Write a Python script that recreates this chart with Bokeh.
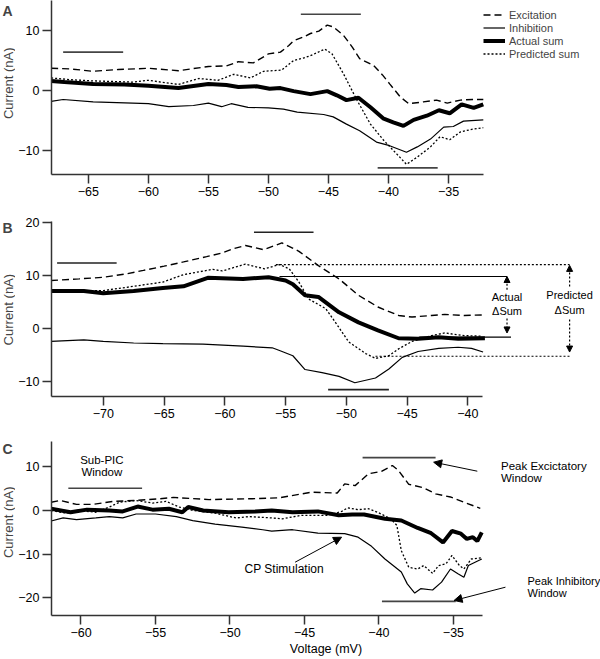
import numpy as np
from bokeh.plotting import figure
from bokeh.models import (Range1d, FixedTicker, Label, Arrow, NormalHead,
                          Legend, LegendItem)
from bokeh.layouts import column, row
from bokeh.embed import file_html
from bokeh.resources import INLINE

FONT = "Liberation Sans"

# ---------------- Panel A data (voltage mV, current nA) ----------------
A_exc_v = [-68.1, -66.5, -64.6, -62.5, -60, -57.5, -55, -53.5, -52.5, -51.25, -50, -49, -48.3, -47.9, -47.1,
           -46.5, -45.8, -45.1, -44.6, -43.75, -43.0, -42.4, -41.25, -40.5, -39.9, -39.0, -38.3, -37.1, -36.0,
           -35.1, -34.0, -33, -32.1]
A_exc_i = [3.7, 3.6, 3.2, 3.5, 3.7, 3.3, 4.0, 4.1, 4.8, 4.6, 6.1, 6.4, 7.5, 8.3, 8.9,
           9.5, 9.9, 10.9, 10.6, 9.2, 7.2, 5.3, 4.2, 2.6, 1.1, -1.1, -2.2, -1.9, -1.6,
           -2.1, -1.6, -1.5, -1.5]
A_inh_v = [-68.1, -67.1, -64.6, -60, -58.3, -56.25, -55, -53.9, -53.1, -51.7, -50, -48.75, -47.6, -45.4,
           -44.6, -43.5, -42.4, -41.0, -39.9, -38.5, -37.6, -36.5, -35.4, -34.6, -33.75, -32.1]
A_inh_i = [-1.8, -1.5, -1.9, -2.2, -2.7, -2.5, -2.1, -2.7, -2.2, -2.8, -2.9, -3.1, -3.6, -4.0,
           -4.4, -5.6, -6.7, -8.6, -9.2, -10.3, -9.4, -8.1, -6.1, -6.0, -5.1, -4.9]
A_act_v = [-68.1, -67, -64.6, -62, -60, -57.5, -55, -53.5, -52.5, -51, -49.9, -49, -47.9, -46.5, -45.1,
           -44.3, -43.5, -42.5, -41.5, -40.4, -39.6, -38.75, -37.9, -36.8, -35.8, -34.9, -33.9, -32.9, -32.1]
A_act_i = [1.6, 1.4, 1.1, 1.0, 0.8, 0.4, 1.1, 0.9, 0.6, 0.7, 0.3, 0.4, -0.1, -0.6, -0.1,
           -0.8, -1.6, -1.2, -2.8, -4.7, -5.3, -5.9, -4.9, -4.2, -3.3, -3.8, -2.3, -2.9, -2.3]
A_pred_v = [-68.1, -66.5, -64.6, -61.25, -60, -57.5, -55.8, -54.2, -52.9, -51.5, -50.4, -48.9, -47.9, -47.1,
            -46.5, -45.3, -44.7, -43.75, -42.6, -41.5, -40.4, -39.3, -38.5, -37.6, -36.5, -35.7, -34.9, -34.0,
            -32.9, -32.1]
A_pred_i = [2.1, 1.8, 1.6, 1.4, 1.7, 1.0, 2.0, 1.7, 2.7, 2.1, 3.2, 3.4, 5.0, 5.4,
            5.8, 6.9, 6.1, 2.8, -1.7, -5.6, -8.3, -10.6, -12.3, -11.1, -9.4, -7.7, -8.2, -6.9,
            -6.4, -6.2]
# window bars: (v_start, v_end, level)
A_windows = [(-67.1, -62.1, 6.4), (-47.3, -42.3, 12.7), (-40.9, -35.9, -12.9)]

# ---------------- Panel B data ----------------
B_exc_v = [-74.3, -72, -70, -68, -66.7, -65, -63.4, -61.5, -60.2, -59.3, -58.3, -56.8, -55.3, -53.9,
           -52.3, -50.6, -49.0, -47.4, -45.7, -44.6, -43, -41.9, -40.3, -38.8]
B_exc_i = [9.0, 9.3, 9.6, 10.3, 10.9, 11.7, 12.5, 13.5, 14.2, 15.0, 15.6, 14.8, 16.1, 14.5,
           11.8, 9.3, 6.2, 4.0, 2.4, 2.1, 2.4, 2.6, 2.4, 2.5]
B_inh_v = [-74.3, -71.6, -70, -67.5, -65.1, -61.8, -58.5, -56.1, -55.5, -54.4, -53.4, -52.0, -50.6,
           -49.3, -47.6, -46.5, -45.4, -44.1, -42.4, -40.8, -39.7, -38.75]
B_inh_i = [-2.5, -2.2, -2.5, -2.8, -2.9, -3.0, -3.4, -3.7, -4.2, -5.2, -7.8, -8.4, -9.1,
           -10.3, -9.4, -7.7, -5.5, -4.4, -3.8, -3.6, -3.8, -4.5]
B_act_v = [-74.3, -71.6, -70, -67.5, -65.1, -63.4, -61.4, -58.5, -56.4, -55.0, -54.4, -53.4, -52.3,
           -50.6, -49.0, -47.4, -45.7, -44.1, -42.4, -40.8, -38.6]
B_act_i = [7.0, 7.0, 6.6, 7.0, 7.6, 7.9, 9.5, 9.3, 9.6, 9.0, 8.3, 6.2, 5.9,
           3.0, 1.1, -0.4, -1.9, -2.0, -1.7, -2.0, -1.9]
B_pred_v = [-74.3, -70, -67.5, -65.1, -63.4, -61, -60.2, -58.3, -56.75, -55.5, -54.7, -53.9, -53.1,
            -51.7, -50.9, -49.8, -48.4, -47.6, -46.5, -45.7, -44.6, -43.0, -41.9, -40.3, -38.9]
B_pred_i = [7.0, 7.1, 7.9, 8.7, 10.1, 11.1, 10.8, 12.1, 11.2, 12.0, 11.2, 8.7, 5.5,
            3.7, 1.1, -2.6, -4.8, -5.7, -5.2, -3.9, -2.5, -1.4, -0.9, -1.4, -1.5]
B_windows = [(-73.8, -68.9, 12.3), (-57.6, -52.7, 18.1), (-51.5, -46.5, -11.6)]
# Delta-sum reference levels
B_actual_hi, B_actual_lo = 9.75, -1.7
B_pred_hi, B_pred_lo = 12.0, -5.3

# ---------------- Panel C data ----------------
C_exc_v = [-62, -61.4, -60.3, -59.2, -57.8, -56.3, -54.7, -53.8, -51.4, -48.5, -46.7, -44.5, -42.8,
           -42.3, -41.6, -40.7, -39.8, -39.1, -38.7, -38.0, -37.0, -36.2, -35.2, -34.3, -33.2]
C_exc_i = [1.9, 2.3, 1.4, 1.4, 2.1, 2.3, 2.7, 3.0, 2.5, 2.7, 2.9, 4.2, 4.0,
           6.1, 5.7, 8.4, 9.0, 10.3, 9.2, 6.0, 5.2, 3.8, 3.1, 1.9, 0.5]
C_inh_v = [-62, -61.2, -60.3, -59, -58.1, -57.2, -56.3, -55, -53.6, -52.5, -51, -49.2, -47.8, -47.2,
           -45.8, -44.1, -42.3, -41.4, -40.5, -39.6, -38.5, -38.1, -37.6, -37.2, -36.4, -35.8, -35.2,
           -34.7, -34.3, -34.0, -33.1]
C_inh_i = [-2.4, -1.7, -2.1, -1.7, -1.4, -1.7, -0.8, -0.8, -1.4, -2.3, -3.1, -3.8, -4.4, -4.7,
           -4.4, -5.2, -5.3, -6.1, -8.2, -11.1, -14.1, -16.8, -18.9, -17.9, -18.2, -16.4, -13.4,
           -14.5, -15.3, -12.6, -11.1]
C_act_v = [-62, -60.7, -59.6, -58.1, -57.2, -56.2, -55.2, -54.1, -53.2, -52.8, -51.8, -50.1, -48.3,
           -47.2, -45.8, -44.1, -42.7, -41.8, -41.0, -39.6, -38.5, -37.4, -36.5, -35.7, -35.1, -34.5,
           -34.1, -33.7, -33.4, -33.1]
C_act_i = [0.4, -0.4, 0.2, 0.0, -0.2, 0.9, 0.2, 0.4, -0.4, 0.8, 0.0, -0.4, -0.2,
           0.0, -0.4, -0.2, -1.1, -0.9, -0.9, -1.9, -2.3, -4.0, -5.2, -7.3, -4.7, -5.3,
           -6.5, -6.1, -7.0, -5.0]
C_pred_v = [-62, -61, -60.1, -59, -58.1, -57.4, -56.3, -55.2, -54.3, -53.4, -52.5, -51, -49.6, -48.7,
            -47.2, -46.5, -45.2, -43.4, -42.5, -42.1, -41.4, -40.7, -40.1, -39.2, -38.8, -38.5, -38.0,
            -37.4, -37.0, -36.4, -36.0, -35.5, -35.1, -34.6, -34.3, -33.8, -33.1]
C_pred_i = [0.0, -0.6, 0.0, -0.4, 0.8, 1.9, 2.3, 1.7, 2.1, 0.8, 0.0, -0.6, -1.7, -1.4,
            -1.7, -1.9, -1.1, -1.1, -0.2, 0.6, 0.2, 0.4, -0.4, -1.9, -3.4, -9.2, -13.0,
            -13.4, -12.6, -14.4, -12.6, -12.2, -10.3, -12.6, -13.4, -11.1, -10.8]
C_windows = [(-60.85, -55.9, 5.1), (-41.1, -36.2, 12.1), (-39.8, -34.85, -20.8)]

A_xticks = [-65, -60, -55, -50, -45, -40, -35]
A_yticks = [-10, 0, 10]
B_xticks = [-70, -65, -60, -55, -50, -45, -40]
B_yticks = [-10, 0, 10, 20]
C_xticks = [-60, -55, -50, -45, -40, -35]
C_yticks = [-20, -10, 0, 10]

SIDE_W = 15          # narrow strip holding panel letter and y-axis title
W = 600 - SIDE_W     # main figure width
BL = 33              # left border of main figure -> frame at x=48
FW = W - BL


def make_fig(height, x_start, px_per_mv, x_bound_end, y_range, xticks, yticks, top, bottom, xlabel=None):
    x_end = x_start + FW / px_per_mv
    p = figure(width=W, height=height, x_range=Range1d(x_start, x_end), y_range=Range1d(*y_range),
               output_backend="svg", toolbar_location=None, title=None,
               min_border_left=BL, min_border_right=0, min_border_top=top, min_border_bottom=bottom)
    p.outline_line_color = None
    p.grid.visible = False
    p.background_fill_color = "white"
    p.border_fill_color = "white"
    p.xaxis.bounds = (x_start, x_bound_end)
    p.xaxis.ticker = FixedTicker(ticks=xticks)
    p.yaxis.ticker = FixedTicker(ticks=yticks)
    for ax in (p.xaxis[0], p.yaxis[0]):
        ax.axis_line_color = "#333333"
        ax.axis_line_width = 1.5
        ax.major_tick_line_color = "#333333"
        ax.major_tick_line_width = 1.5
        ax.major_tick_out = 9
        ax.major_tick_in = 0
        ax.minor_tick_line_color = None
        ax.major_label_text_font = FONT
        ax.major_label_text_font_size = "12.5px"
        ax.major_label_text_color = "black"
        ax.major_label_standoff = 3
        ax.axis_label_text_font = FONT
        ax.axis_label_text_font_size = "12.5px"
        ax.axis_label_text_font_style = "normal"
        ax.axis_label_text_color = "black"
        ax.axis_label_standoff = 2
    if xlabel:
        p.xaxis.axis_label = xlabel
    return p


def side_strip(height, y_range, top, bottom, letter, letter_y, label_y):
    """Narrow strip left of the axis: panel letter + rotated y-axis title.
    Its frame is aligned with the main frame, so it shares the current (nA) scale."""
    s = figure(width=SIDE_W, height=height, x_range=Range1d(0, SIDE_W), y_range=Range1d(*y_range),
               output_backend="svg", toolbar_location=None, title=None,
               x_axis_type=None, y_axis_type=None, min_border_left=0, min_border_right=0,
               min_border_top=top, min_border_bottom=bottom)
    s.outline_line_color = None
    s.grid.visible = False
    s.background_fill_color = "white"
    s.border_fill_color = "white"
    s.add_layout(Label(x=2, y=letter_y, text=letter, text_font=FONT, text_font_style="bold",
                       text_font_size="14px", text_align="left", text_baseline="middle"))
    s.add_layout(Label(x=7.5, y=label_y, text="Current (nA)", text_font=FONT,
                       text_font_size="13px", text_align="center", text_baseline="middle",
                       angle=np.pi / 2))
    return s


def draw_series(p, exc, inh, act, pred):
    r_inh = p.line(inh[0], inh[1], line_color="black", line_width=1.2)
    r_exc = p.line(exc[0], exc[1], line_color="black", line_width=1.4, line_dash="7 4")
    r_pred = p.line(pred[0], pred[1], line_color="black", line_width=1.3, line_dash="2 2")
    r_act = p.line(act[0], act[1], line_color="black", line_width=4)
    return r_exc, r_inh, r_act, r_pred


def draw_windows(p, windows, color="#444444"):
    p.segment(x0=[w[0] for w in windows], x1=[w[1] for w in windows],
              y0=[w[2] for w in windows], y1=[w[2] for w in windows],
              line_color=color, line_width=1.6)


def note(p, x, y, text, align="center", size="11px"):
    p.add_layout(Label(x=x, y=y, text=text, text_font=FONT, text_font_size=size,
                       text_align=align, text_baseline="middle", text_color="black"))


# ---------------- Panel A ----------------
HA, A_yr = 203, (-14.0, 15.0)
pA = make_fig(HA, -68.07, 12.07, -32.1, A_yr, A_xticks, A_yticks, 0, 29)
rA = draw_series(pA, (A_exc_v, A_exc_i), (A_inh_v, A_inh_i), (A_act_v, A_act_i), (A_pred_v, A_pred_i))
draw_windows(pA, A_windows)
leg = Legend(items=[LegendItem(label="Excitation", renderers=[rA[0]]),
                    LegendItem(label="Inhibition", renderers=[rA[1]]),
                    LegendItem(label="Actual sum", renderers=[rA[2]]),
                    LegendItem(label="Predicted sum", renderers=[rA[3]])],
             location=(432, 114), orientation="vertical", background_fill_alpha=0,
             border_line_color=None, padding=0, spacing=0, margin=0, glyph_width=22, glyph_height=13,
             label_height=13, label_standoff=4, label_text_font=FONT, label_text_font_size="11px")
pA.add_layout(leg)
sA = side_strip(HA, A_yr, 0, 29, "A", 13.3, 1.2)

# ---------------- Panel B ----------------
HB, B_yr = 221, (-12.89, 20.13)
pB = make_fig(HB, -74.26, 12.22, -38.77, B_yr, B_xticks, B_yticks, 18, 28)
draw_series(pB, (B_exc_v, B_exc_i), (B_inh_v, B_inh_i), (B_act_v, B_act_i), (B_pred_v, B_pred_i))
draw_windows(pB, B_windows, color="#222222")
xa, xp = -36.78, -31.63
pB.segment(x0=[-55.5, -44.0], x1=[xa, -36.45], y0=[B_actual_hi, B_actual_lo], y1=[B_actual_hi, B_actual_lo],
           line_color="black", line_width=1.2)
pB.segment(x0=[-55.8, -47.6], x1=[xp, xp], y0=[B_pred_hi, B_pred_lo], y1=[B_pred_hi, B_pred_lo],
           line_color="black", line_width=1.2, line_dash="2 2")
for (x, y0, y1) in [(xa, 7.25, B_actual_hi), (xa, 1.83, -0.9), (xp, 7.87, B_pred_hi - 0.15), (xp, 1.64, B_pred_lo + 0.8)]:
    pB.add_layout(Arrow(x_start=x, y_start=y0, x_end=x, y_end=y1, line_color="black", line_width=1.2,
                        line_dash="2 2", end=NormalHead(size=6, fill_color="black", line_color="black")))
note(pB, xa, 5.85, "Actual")
note(pB, xa, 3.15, "ΔSum")
note(pB, xp, 6.17, "Predicted")
note(pB, xp, 3.34, "ΔSum")
sB = side_strip(HB, B_yr, 18, 28, "B", 18.9, 3.5)

# ---------------- Panel C ----------------
HC, C_yr = 234, (-24.04, 15.8)
pC = make_fig(HC, -61.98, 14.98, -33.03, C_yr, C_xticks, C_yticks, 17, 43, xlabel="Voltage (mV)")
draw_series(pC, (C_exc_v, C_exc_i), (C_inh_v, C_inh_i), (C_act_v, C_act_i), (C_pred_v, C_pred_i))
draw_windows(pC, C_windows)
for (x0, y0, x1, y1) in [(-33.4, 9.0, -36.33, 11.06), (-31.51, -17.56, -34.96, -20.6), (-45.63, -11.84, -42.51, -6.11)]:
    pC.add_layout(Arrow(x_start=x0, y_start=y0, x_end=x1, y_end=y1, line_color="black", line_width=1,
                        end=NormalHead(size=8, fill_color="black", line_color="black")))
note(pC, -58.6, 11.6, "Sub-PIC", size="11.5px")
note(pC, -58.6, 8.77, "Window", size="11.5px")
note(pC, -31.81, 10.3, "Peak Excictatory", align="left", size="11.5px")
note(pC, -31.81, 7.49, "Window", align="left", size="11.5px")
note(pC, -30.03, -16.03, "Peak Inhibitory", align="left", size="11px")
note(pC, -30.03, -18.85, "Window", align="left", size="11px")
note(pC, -46.36, -13.35, "CP Stimulation", size="12px")
sC = side_strip(HC, C_yr, 17, 43, "C", 14.1, -2.7)

layout = column(row(sA, pA, spacing=0), row(sB, pB, spacing=0), row(sC, pC, spacing=0), spacing=0)
open("out.html", "w").write(file_html(layout, INLINE))
